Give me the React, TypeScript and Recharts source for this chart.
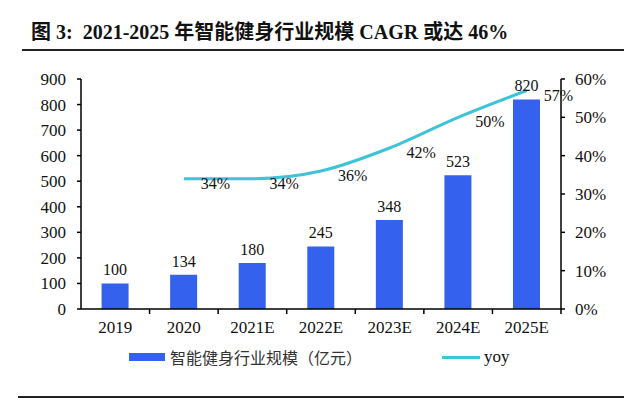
import React from 'react';
import { ComposedChart, Bar, Line, XAxis, YAxis, LabelList } from 'recharts';

const categories = ['2019', '2020', '2021E', '2022E', '2023E', '2024E', '2025E'];
const marketSize = [100, 134, 180, 245, 348, 523, 820];
const yoyGrowth = [null, 34, 34, 36, 42, 50, 57];
const leftTicks = [0, 100, 200, 300, 400, 500, 600, 700, 800, 900];
const rightTicks = [0, 10, 20, 30, 40, 50, 60];

const TITLE = '图 3:  2021-2025 年智能健身行业规模 CAGR 或达 46%';
const BAR_NAME = '智能健身行业规模（亿元）';
const LINE_NAME = 'yoy';

const BAR_COLOR = '#3461ee';
const LINE_COLOR = '#3ec3d8';
const SERIF = '"Liberation Serif", "Times New Roman", serif';
const CJK = '"Noto Sans CJK SC", sans-serif';

const data = categories.map((c, i) => ({
  name: c,
  size: marketSize[i],
  yoy: yoyGrowth[i],
}));

// plot area: x 81..561, y 79..309
const PLOT_W = 480;
const BAND = PLOT_W / categories.length;

function XTick({ x, y, payload }: any) {
  return (
    <g>
      <line x1={x + BAND / 2} y1={y} x2={x + BAND / 2} y2={y + 5} stroke="#000" strokeWidth={1.5} />
      <text x={x} y={y + 24} textAnchor="middle" fontFamily={SERIF} fontSize={17} fill="#111">
        {payload.value}
      </text>
    </g>
  );
}

// yoy labels sit to the right of the point, a little below the line
function YoyLabel({ x, y, value }: any) {
  if (value == null) return null;
  return (
    <text x={x + 17} y={y + 10} fontFamily={SERIF} fontSize={16} fill="#111">
      {value}%
    </text>
  );
}

export default function App() {
  return (
    <div style={{ position: 'absolute', left: 0, top: 0, width: 640, height: 399, background: '#fff' }}>
      <div
        style={{
          position: 'absolute',
          left: 31,
          top: 21,
          fontFamily: `${SERIF}, ${CJK}`,
          fontWeight: 'bold',
          fontSize: 20,
          color: '#111',
          whiteSpace: 'pre',
          lineHeight: '23px',
        }}
      >
        {TITLE}
      </div>
      <div style={{ position: 'absolute', left: 22, top: 49, width: 602, height: 2, background: '#222' }} />

      <ComposedChart
        width={640}
        height={399}
        data={data}
        margin={{ top: 79, right: 19, bottom: 60, left: 21 }}
        barCategoryGap="30%"
      >
        <XAxis
          dataKey="name"
          height={30}
          axisLine={{ stroke: '#000', strokeWidth: 1.5 }}
          tickLine={false}
          tickSize={0}
          tickMargin={0}
          tick={<XTick />}
          interval={0}
        />
        <YAxis
          yAxisId="left"
          width={60}
          domain={[0, 900]}
          ticks={leftTicks}
          axisLine={{ stroke: '#000', strokeWidth: 1.5 }}
          tickLine={{ stroke: '#000', strokeWidth: 1.5 }}
          tickSize={4}
          tickMargin={11}
          tick={{ fill: '#111', fontSize: 17, fontFamily: SERIF }}
        />
        <YAxis
          yAxisId="right"
          orientation="right"
          width={60}
          domain={[0, 60]}
          ticks={rightTicks}
          tickFormatter={(v) => `${v}%`}
          axisLine={{ stroke: '#000', strokeWidth: 1.5 }}
          tickLine={{ stroke: '#000', strokeWidth: 1.5 }}
          tickSize={4}
          tickMargin={10}
          tick={{ fill: '#111', fontSize: 17, fontFamily: SERIF }}
        />
        <Bar yAxisId="left" dataKey="size" fill={BAR_COLOR} isAnimationActive={false}>
          <LabelList
            dataKey="size"
            position="top"
            offset={8}
            style={{ fill: '#111', fontSize: 16, fontFamily: SERIF }}
          />
        </Bar>
        <Line
          yAxisId="right"
          dataKey="yoy"
          type="monotone"
          stroke={LINE_COLOR}
          strokeWidth={3}
          dot={false}
          activeDot={false}
          isAnimationActive={false}
        >
          <LabelList dataKey="yoy" content={<YoyLabel />} />
        </Line>
      </ComposedChart>

      <div style={{ position: 'absolute', left: 129, top: 353, width: 36, height: 8, background: BAR_COLOR }} />
      <div
        style={{
          position: 'absolute',
          left: 170,
          top: 346,
          fontFamily: CJK,
          fontSize: 16,
          lineHeight: '22px',
          color: '#333',
          whiteSpace: 'pre',
        }}
      >
        {BAR_NAME}
      </div>
      <div style={{ position: 'absolute', left: 442, top: 356, width: 38, height: 3, background: LINE_COLOR }} />
      <div
        style={{
          position: 'absolute',
          left: 484,
          top: 346,
          fontFamily: SERIF,
          fontSize: 17,
          lineHeight: '22px',
          color: '#111',
        }}
      >
        {LINE_NAME}
      </div>
      <div style={{ position: 'absolute', left: 18, top: 396, width: 606, height: 2, background: '#222' }} />
    </div>
  );
}
